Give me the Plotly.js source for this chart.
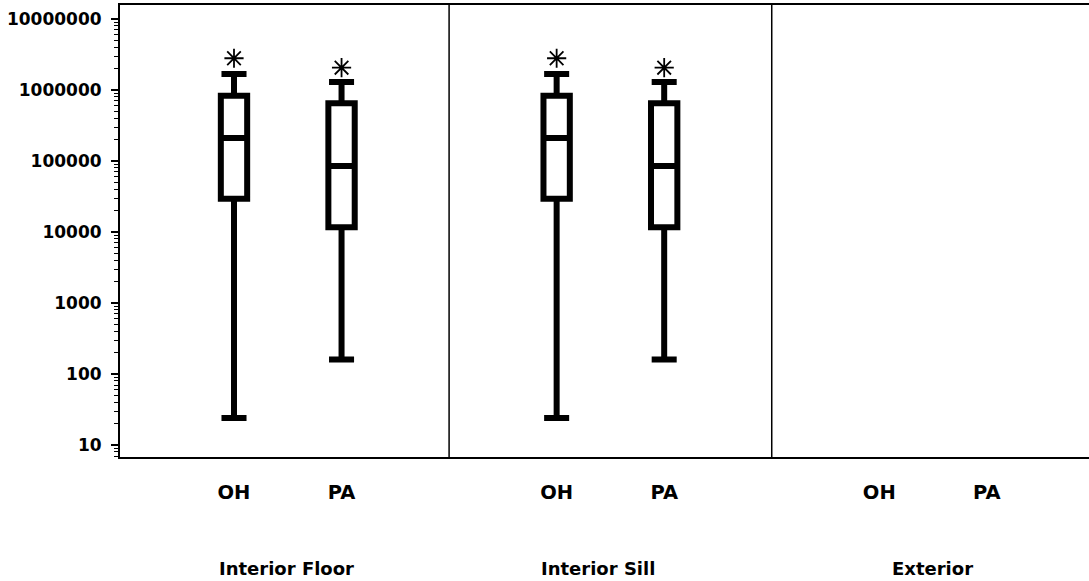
<!DOCTYPE html>
<html>
<head>
<meta charset="utf-8">
<script src="https://cdn.plot.ly/plotly-3.0.1.min.js"></script>
<style>html,body{margin:0;padding:0;background:#fff;}#chart{width:1089px;height:581px;}</style>
</head>
<body>
<div id="chart"></div>
<script>
// ---- data ----
var groups = ['Interior Floor', 'Interior Sill', 'Exterior'];
var sites = ['OH', 'PA'];
// per box, in order: Floor-OH, Floor-PA, Sill-OH, Sill-PA (Exterior has no data)
var boxGroup = [0, 0, 1, 1];
var boxSite = [0, 1, 0, 1];
var lowerWhisker = [24, 160, 24, 160];
var q1Values = [29500, 11700, 29500, 11700];
var medianValues = [210000, 85000, 210000, 85000];
var q3Values = [830000, 650000, 830000, 650000];
var upperWhisker = [1680000, 1300000, 1680000, 1300000];
var outlierValues = [2800000, 2060000, 2800000, 2060000];
var yTickVals = [10, 100, 1000, 10000, 100000, 1000000, 10000000];
var yTickText = ['10', '100', '1000', '10000', '100000', '1000000', '10000000'];

// ---- build ----
var perGroup = sites.length + 1;
function pos(g, s) { return g * perGroup + s; }
var boxX = boxGroup.map(function (g, i) { return pos(g, boxSite[i]); });

var xTickVals = [], xTickText = [];
groups.forEach(function (g, gi) {
  sites.forEach(function (s, si) { xTickVals.push(pos(gi, si)); xTickText.push(s); });
});

var minorVals = [];
for (var d = 0; d <= 7; d++) for (var k = 2; k <= 9; k++) minorVals.push(k * Math.pow(10, d));

var boxTrace = {
  type: 'box',
  x: boxX,
  q1: q1Values,
  median: medianValues,
  q3: q3Values,
  lowerfence: lowerWhisker,
  upperfence: upperWhisker,
  width: 0.245,
  whiskerwidth: 0.95,
  line: { color: '#000', width: 6 },
  fillcolor: '#fff',
  boxpoints: false,
  showlegend: false,
  hoverinfo: 'skip'
};
var outTrace = {
  type: 'scatter',
  mode: 'markers',
  x: boxX,
  y: outlierValues,
  marker: { symbol: 'asterisk-open', size: 16, color: '#000', line: { color: '#000', width: 1.8 } },
  showlegend: false,
  hoverinfo: 'skip',
  cliponaxis: false
};

var fontFam = 'DejaVu Sans, Arial, sans-serif';
var shapes = [];
for (var gi = 1; gi < groups.length; gi++) {
  shapes.push({ type: 'line', xref: 'x', yref: 'paper', x0: gi * perGroup - 1, x1: gi * perGroup - 1, y0: 0, y1: 1,
    line: { color: '#000', width: 1.5 } });
}
var groupLabelX = [0.1723, 0.4933, 0.838];
var annotations = groups.map(function (g, gi) {
  return { text: g, xref: 'paper', yref: 'paper', x: groupLabelX[gi], y: -0.2456, xanchor: 'center', yanchor: 'middle',
    showarrow: false, font: { family: fontFam, size: 18, color: '#000', weight: 'bold' } };
});

var layout = {
  width: 1089, height: 581,
  margin: { l: 120, r: 0, t: 5, b: 124, pad: 0 },
  paper_bgcolor: '#fff', plot_bgcolor: '#fff',
  showlegend: false,
  xaxis: {
    range: [-1.06, 7.95],
    tickmode: 'array', tickvals: xTickVals, ticktext: xTickText,
    ticks: 'outside', ticklen: 17, tickcolor: 'rgba(0,0,0,0)',
    showline: true, linecolor: '#000', linewidth: 2, mirror: true,
    showgrid: false, zeroline: false,
    tickfont: { family: fontFam, size: 19.5, color: '#000', weight: 'bold' }
  },
  yaxis: {
    type: 'log',
    range: [0.831, 7.197],
    tickmode: 'array', tickvals: yTickVals, ticktext: yTickText,
    ticks: 'outside', ticklen: 7, tickwidth: 1.5, tickcolor: '#000',
    minor: { tickmode: 'array', tickvals: minorVals, ticks: 'outside', ticklen: 4, tickwidth: 1, tickcolor: '#000', showgrid: false },
    showline: true, linecolor: '#000', linewidth: 2,
    showgrid: false, zeroline: false,
    ticklabelstandoff: 6,
    tickfont: { family: fontFam, size: 17, color: '#000', weight: 'bold' }
  },
  shapes: shapes,
  annotations: annotations
};

Plotly.newPlot('chart', [boxTrace, outTrace], layout, { staticPlot: true, displayModeBar: false });
</script>
</body>
</html>
